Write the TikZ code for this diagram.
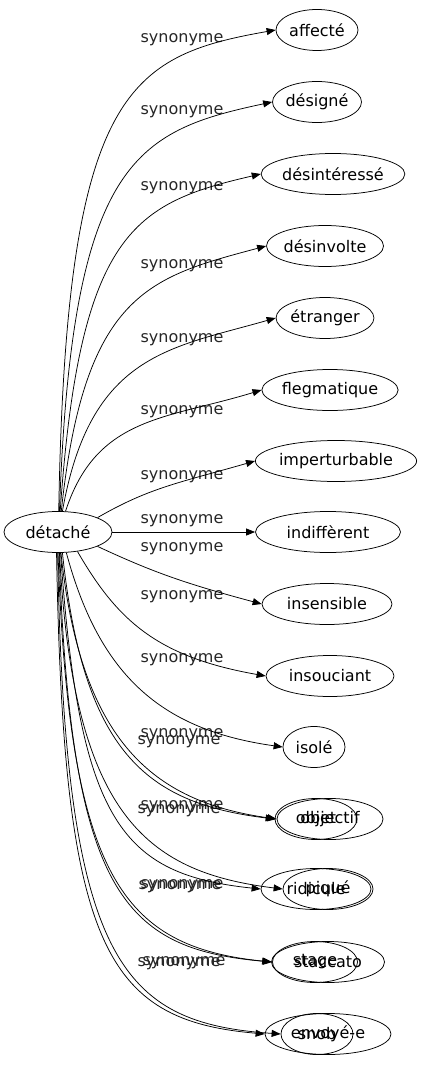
\documentclass[tikz,border=0pt]{standalone}
\usepackage{fontspec}
\setmainfont{DejaVu Sans}
\usetikzlibrary{arrows.meta,shapes.geometric}
\begin{document}
\begin{tikzpicture}[x=1pt,y=1pt,
  every node/.style={font=\fontsize{16}{19}\selectfont},
  term/.style={draw,ellipse,inner sep=0pt,minimum height=41pt,line width=0.75pt},
  lbl/.style={inner sep=0pt,text=black!85},
  edge/.style={draw,line width=0.75pt,-{Triangle[length=9pt,width=7pt]}}]
\useasboundingbox (0,0) rectangle (421,-1067);
\node[term,minimum width=108pt] (d) at (58,-532) {détaché};
\node[term,minimum width=82pt] (t0) at (317,-30) {affecté};
\node[term,minimum width=82pt] (t1) at (317,-102) {désigné};
\node[term,minimum width=108pt] (t2) at (333,-174) {désintéressé};
\node[term,minimum width=100pt] (t3) at (325,-246) {désinvolte};
\node[term,minimum width=94pt] (t4) at (325,-318) {étranger};
\node[term,minimum width=106pt] (t5) at (330,-390) {flegmatique};
\node[term,minimum width=128pt] (t6) at (336,-461) {imperturbable};
\node[term,minimum width=145pt] (t7) at (328,-532) {indiffèrent};
\node[term,minimum width=130pt] (t8) at (327,-604) {insensible};
\node[term,minimum width=128pt] (t9) at (330,-676) {insouciant};
\node[term,minimum width=62pt] (t10) at (314,-747) {isolé};
\node[term,minimum width=106pt] (t11b) at (330,-819) {objectif};
\node[term,minimum width=82pt] (t11a) at (316,-819) {objet};
\node[term,minimum width=110pt] (t12a) at (316,-889) {ridicule};
\node[term,minimum width=90pt] (t12b) at (328,-889) {piqué};
\node[term,minimum width=113pt] (t13b) at (328,-962) {staccato};
\node[term,minimum width=85pt] (t13a) at (315,-962) {stage};
\node[term,minimum width=126pt] (t14b) at (328,-1034) {envoyé-e};
\node[term,minimum width=72pt] (t14a) at (317,-1034) {snob};
% labels
\node[lbl] (l0) at (182,-40) {synonyme};
\node[lbl] (l1) at (182,-112) {synonyme};
\node[lbl] (l2) at (182,-188) {synonyme};
\node[lbl] (l3) at (182,-266) {synonyme};
\node[lbl] (l4) at (182,-340) {synonyme};
\node[lbl] (l5) at (182,-412) {synonyme};
\node[lbl] (l6) at (182,-477) {synonyme};
\node[lbl] (l7) at (182,-521) {synonyme};
\node[lbl] (l8) at (182,-549) {synonyme};
\node[lbl] (l9) at (182,-597) {synonyme};
\node[lbl] (l10) at (182,-660) {synonyme};
\node[lbl] (l11a) at (182,-735) {synonyme};
\node[lbl] (l11b) at (179,-742) {synonyme};
\node[lbl] (l12a) at (182,-807) {synonyme};
\node[lbl] (l12b) at (179,-811) {synonyme};
\node[lbl] (l13a) at (182,-886) {synonyme};
\node[lbl] (l13b) at (180,-887) {synonyme};
\node[lbl] (l14a) at (184,-963) {synonyme};
\node[lbl] (l14b) at (179,-964) {synonyme};
% edges
\path[edge] (d.88) .. controls +(89:420) and +(190:150) .. (t0.west);
\path[edge] (d.86) .. controls +(88:350) and +(192:140) .. (t1.west);
\path[edge] (d.84) .. controls +(86:280) and +(193:130) .. (t2.west);
\path[edge] (d.81) .. controls +(84:220) and +(195:120) .. (t3.west);
\path[edge] (d.78) .. controls +(80:160) and +(196:110) .. (t4.west);
\path[edge] (d.70) .. controls +(72:100) and +(197:100) .. (t5.west);
\path[edge] (d.20) .. controls +(30:60) and +(196:80) .. (t6.west);
\path[edge] (d.east) -- (t7.west);
\path[edge] (d.-20) .. controls +(-25:60) and +(165:80) .. (t8.west);
\path[edge] (d.-45) .. controls +(-60:80) and +(170:110) .. (t9.west);
\path[edge] (d.-68) .. controls +(-75:130) and +(172:120) .. (t10.west);
\path[edge] (d.-78) .. controls +(-84:200) and +(173:130) .. (t11a.west);
\path[edge] (d.-82) .. controls +(-84:190) and +(172:125) .. (t11b.west);
\path[edge] (d.-83) .. controls +(-86:270) and +(174:140) .. (t12a.west);
\path[edge] (d.-86) .. controls +(-87:260) and +(173:140) .. (t12b.west);
\path[edge] (d.-87) .. controls +(-88:340) and +(175:150) .. (t13a.west);
\path[edge] (d.-90) .. controls +(-88:325) and +(174:150) .. (t13b.west);
\path[edge] (d.-91) .. controls +(-89:410) and +(176:160) .. (t14a.west);
\path[edge] (d.-94) .. controls +(-89:395) and +(175:160) .. (t14b.west);
\end{tikzpicture}
\end{document}
